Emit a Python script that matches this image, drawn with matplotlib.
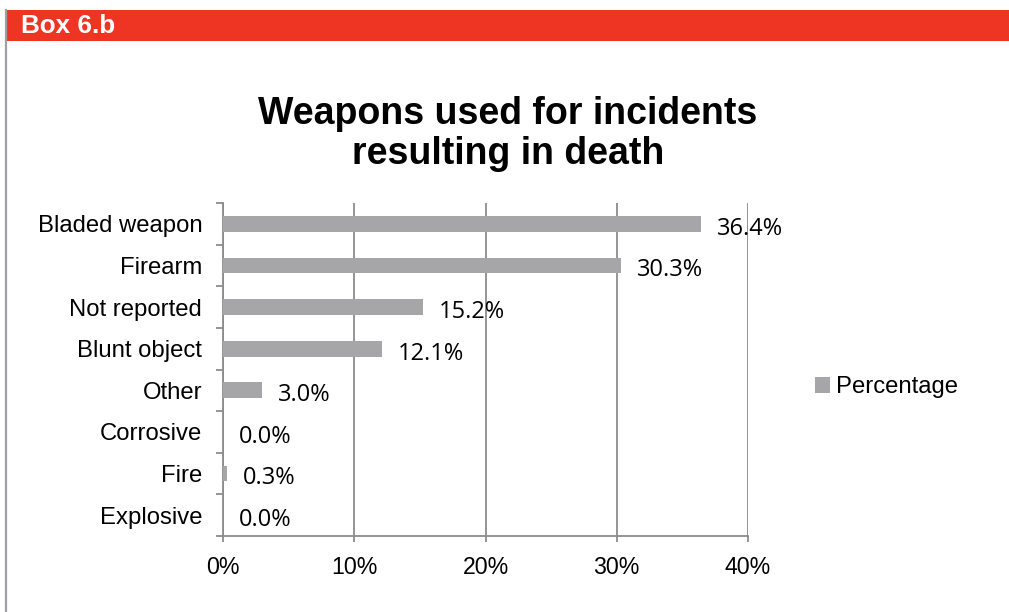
import matplotlib
matplotlib.use("Agg")
import matplotlib.pyplot as plt
from matplotlib.patches import Rectangle, Patch
from matplotlib.lines import Line2D
import numpy as np

# weapon categories, top to bottom, and their share of incidents (%)
categories = ["Bladed weapon", "Firearm", "Not reported", "Blunt object",
              "Other", "Corrosive", "Fire", "Explosive"]
percentages = [36.4, 30.3, 15.2, 12.1, 3.0, 0.0, 0.3, 0.0]
x_ticks = [0, 10, 20, 30, 40]
x_tick_labels = ["0%", "10%", "20%", "30%", "40%"]

BAR_GREY = "#A6A6A8"
GRID_GREY = "#8C8C8C"
RED = "#EE3524"
W, H = 1009, 612

fig = plt.figure(figsize=(W / 100, H / 100), dpi=100)
fig.patch.set_facecolor("white")

# header banner and left border of the box
fig.patches.append(Rectangle((7 / W, 1 - 41 / H), 1 - 7 / W, 31 / H,
                             transform=fig.transFigure, facecolor=RED,
                             edgecolor="none", zorder=0))
fig.lines.append(Line2D([5.5 / W, 5.5 / W], [0, 1 - 10 / H],
                        transform=fig.transFigure, color="#A0A0A4", lw=1.6))
fig.text(21 / W, 1 - 26 / H, "Box 6.b", color="white", fontsize=18.7,
         fontweight="bold", family="Liberation Sans", va="center", ha="left")

fig.text(508 / W, 1 - 134 / H, "Weapons used for incidents\nresulting in death",
         ha="center", va="center", fontsize=27, fontweight="bold",
         family="Liberation Sans", linespacing=1.15)

ax = fig.add_axes([223 / W, 1 - 536 / H, (748 - 223) / W, (536 - 203) / H])
y = np.arange(len(categories))
ax.barh(y, percentages, height=0.38, color=BAR_GREY, zorder=3)

for yi, v in zip(y, percentages):
    ax.annotate(f"{v:.1f}%", (v, yi), xytext=(11.5, -3.5), textcoords="offset points",
                va="center", ha="left", fontsize=17, family="Open Sans", zorder=4)

ax.set_xlim(0, 40)
ax.set_ylim(len(categories) - 0.5, -0.5)
ax.set_xticks(x_ticks)
ax.set_xticklabels(x_tick_labels, family="Liberation Sans", fontsize=16.7)
ax.set_yticks(y)
ax.set_yticklabels(categories, family="Liberation Sans", fontsize=17.2)
ax.set_yticks(np.arange(-0.5, len(categories)), minor=True)
ax.tick_params(axis="y", which="major", length=0, pad=15)
ax.tick_params(axis="y", which="minor", length=5, width=1.3, color=GRID_GREY)
ax.tick_params(axis="x", length=4, width=1.3, color=GRID_GREY, pad=10.5)

ax.grid(axis="x", color=GRID_GREY, lw=1.3, zorder=0)
for s in ["top", "right"]:
    ax.spines[s].set_visible(False)
for s in ["left", "bottom"]:
    ax.spines[s].set_color(GRID_GREY)
    ax.spines[s].set_linewidth(1.3)

fig.legend(handles=[Patch(facecolor=BAR_GREY, label="Percentage")],
           loc="center left", bbox_to_anchor=(793 / W, 1 - 387 / H),
           frameon=False, handlelength=0.65, handleheight=0.65,
           handletextpad=0.25, prop={"family": "Liberation Sans", "size": 17.2})

fig.savefig("out.png", dpi=100, facecolor="white")
